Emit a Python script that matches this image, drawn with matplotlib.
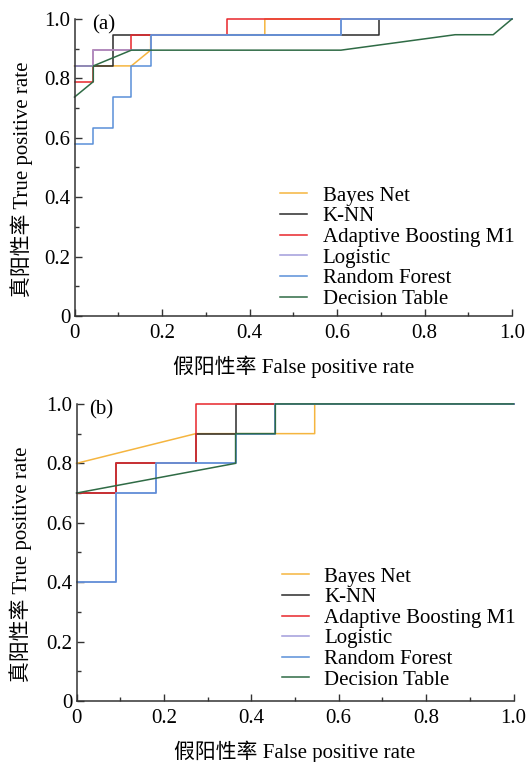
import matplotlib
matplotlib.use("Agg")
import matplotlib.pyplot as plt
from matplotlib.ticker import MultipleLocator, FuncFormatter

plt.rcParams['font.family'] = ['Liberation Serif', 'Noto Sans CJK SC']
plt.rcParams['font.size'] = 15

names = ['Bayes Net', 'K-NN', 'Adaptive Boosting M1', 'Logistic',
         'Random Forest', 'Decision Table']
colors = ['#F5B53F', '#2B2B2B', '#E8262B', '#A29CDB', '#5A8FD8', '#2F6B45']

# panel (a): ROC points (FPR, TPR)
a_fpr = [
    [0, 0.130, 0.174, 0.174, 0.435, 0.435, 1.0],
    [0, 0.087, 0.087, 0.696, 0.696, 1.0],
    [0, 0.043, 0.043, 0.130, 0.130, 0.348, 0.348, 1.0],
    [0, 0.043, 0.043, 0.174, 0.174, 0.609, 0.609, 1.0],
    [0, 0.043, 0.043, 0.087, 0.087, 0.130, 0.130, 0.174, 0.174, 0.609, 0.609, 1.0],
    [0, 0.043, 0.043, 0.130, 0.609, 0.870, 0.957, 1.0],
]
a_tpr = [
    [0.842, 0.842, 0.895, 0.947, 0.947, 1.0, 1.0],
    [0.842, 0.842, 0.947, 0.947, 1.0, 1.0],
    [0.789, 0.789, 0.895, 0.895, 0.947, 0.947, 1.0, 1.0],
    [0.842, 0.842, 0.895, 0.895, 0.947, 0.947, 1.0, 1.0],
    [0.579, 0.579, 0.632, 0.632, 0.737, 0.737, 0.842, 0.842, 0.947, 0.947, 1.0, 1.0],
    [0.737, 0.789, 0.842, 0.895, 0.895, 0.947, 0.947, 1.0],
]

# panel (b)
b_fpr = [
    [0, 0.273, 0.545, 0.545, 1.0],
    [0, 0.091, 0.091, 0.273, 0.273, 0.364, 0.364, 1.0],
    [0, 0.091, 0.091, 0.273, 0.273, 1.0],
    [0, 0.091, 0.091, 0.182, 0.182, 0.364, 0.364, 0.455, 0.455, 1.0],
    [0, 0.091, 0.091, 0.182, 0.182, 0.364, 0.364, 0.455, 0.455, 1.0],
    [0, 0.364, 0.364, 0.455, 0.455, 1.0],
]
b_tpr = [
    [0.8, 0.9, 0.9, 1.0, 1.0],
    [0.7, 0.7, 0.8, 0.8, 0.9, 0.9, 1.0, 1.0],
    [0.7, 0.7, 0.8, 0.8, 1.0, 1.0],
    [0.4, 0.4, 0.7, 0.7, 0.8, 0.8, 0.9, 0.9, 1.0, 1.0],
    [0.4, 0.4, 0.7, 0.7, 0.8, 0.8, 0.9, 0.9, 1.0, 1.0],
    [0.7, 0.8, 0.9, 0.9, 1.0, 1.0],
]

def fmt(v, pos):
    return '0' if abs(v) < 1e-9 else '%.1f' % v

fig = plt.figure(figsize=(5.28, 7.62), dpi=100)
ax_a = fig.add_axes([0.1411, 0.5853, 0.8286, 0.3898])
ax_b = fig.add_axes([0.1449, 0.0801, 0.8277, 0.3898])

# axes, x-arrays, y-arrays, tag, tag x, ylabel x, legend y
panels = [(ax_a, a_fpr, a_tpr, '(a)', 0.04, -0.096, 0.01),
          (ax_b, b_fpr, b_tpr, '(b)', 0.03, -0.101, 0.024)]
for ax, xs, ys, tag, tx, lx, ly in panels:
    for x, y, c, n in zip(xs, ys, colors, names):
        ax.plot(x, y, color=c, lw=1.1, label=n, clip_on=False)
    ax.set_xlim(0, 1)
    ax.set_ylim(0, 1)
    for s in ['top', 'right']:
        ax.spines[s].set_visible(False)
    for s in ['left', 'bottom']:
        ax.spines[s].set_color('#333333')
        ax.spines[s].set_linewidth(1.1)
    ax.xaxis.set_major_locator(MultipleLocator(0.2))
    ax.xaxis.set_minor_locator(MultipleLocator(0.1))
    ax.yaxis.set_major_locator(MultipleLocator(0.2))
    ax.yaxis.set_minor_locator(MultipleLocator(0.1))
    ax.xaxis.set_major_formatter(FuncFormatter(fmt))
    ax.yaxis.set_major_formatter(FuncFormatter(fmt))
    ax.tick_params(which='both', direction='in', colors='#333333',
                   labelcolor='black', labelsize=15, width=1.0)
    ax.tick_params(which='major', length=5, pad=3)
    ax.tick_params(axis='x', which='major', pad=6)
    ax.tick_params(which='minor', length=3)
    ax.set_xlabel('假阳性率 False positive rate', fontsize=15, labelpad=9)
    ax.set_ylabel('真阳性率 True positive rate', fontsize=15)
    ax.yaxis.set_label_coords(lx, 0.46)
    ax.text(tx, 0.98, tag, transform=ax.transAxes, ha='left', va='center',
            fontsize=15)
    ax.legend(loc='lower left', bbox_to_anchor=(0.46, ly), frameon=False,
              fontsize=15, handlelength=1.3, handletextpad=0.75,
              labelspacing=0.05, borderpad=0.2, borderaxespad=0)

fig.savefig('out.png', dpi=100)
